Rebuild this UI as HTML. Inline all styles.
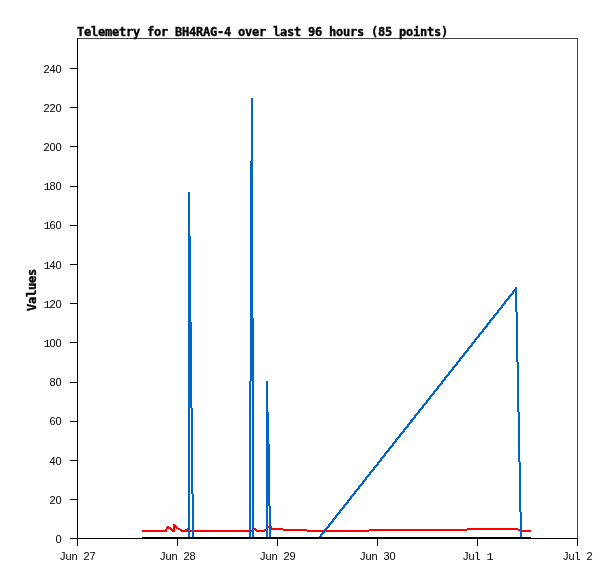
<!DOCTYPE html>
<html><head><meta charset="utf-8"><title>Telemetry for BH4RAG-4</title>
<style>
html,body{margin:0;padding:0;background:#fff}
#c{position:relative;width:615px;height:579px;overflow:hidden;background:#fff}
svg{display:block;position:absolute;left:0;top:0}
.l{position:absolute;font:11px/12px "Liberation Sans",sans-serif;white-space:pre;color:#000;letter-spacing:-0.117px;word-spacing:3.06px}
.m{font-family:"Liberation Mono",monospace;font-size:11px;letter-spacing:-0.6px;margin-left:-0.5px;margin-right:0.5px}
.n{font-family:"Liberation Mono",monospace;font-size:11.7px;letter-spacing:-1.02px}
</style></head>
<body>
<div id="c">
<svg width="615" height="579" viewBox="0 0 615 579" shape-rendering="crispEdges">
<rect width="615" height="579" fill="#fff"/>
<rect x="77" y="38" width="501" height="1" fill="#444"/>
<rect x="577" y="38" width="1" height="501" fill="#444"/>
<path fill="#ff0000" d="M142 530h23v2h-23zM165 529h1v3h-1zM166 527h1v5h-1zM167 526h2v3h-2zM169 527h1v2h-1zM170 527h1v3h-1zM171 528h1v3h-1zM172 529h1v3h-1zM173 524h2v8h-2zM175 525h1v3h-1zM176 526h1v3h-1zM177 527h1v2h-1zM178 528h2v2h-2zM180 529h1v2h-1zM181 529h1v3h-1zM182 530h3v2h-3zM185 529h2v3h-2zM187 528h1v4h-1zM188 530h64v2h-64zM252 528h2v4h-2zM254 528h1v2h-1zM255 528h1v3h-1zM256 529h1v3h-1zM257 530h7v2h-7zM264 529h1v3h-1zM265 529h1v2h-1zM266 526h2v5h-2zM268 526h3v2h-3zM271 526h1v4h-1zM272 528h11v2h-11zM283 529h24v2h-24zM307 530h62v2h-62zM369 529h98v2h-98zM467 528h51v2h-51zM518 529h2v2h-2zM520 530h11v2h-11z"/>
<path fill="#0066cc" d="M188 192h2v346h-2zM190 236h1v172h-1zM191 322h1v172h-1zM192 408h1v130h-1zM193 494h1v44h-1zM249 381h1v157h-1zM250 161h1v377h-1zM251 98h1v283h-1zM252 98h1v440h-1zM253 318h1v220h-1zM266 381h2v157h-2zM268 412h1v94h-1zM269 444h1v94h-1zM270 506h1v32h-1zM515 287h1v25h-1zM516 287h1v75h-1zM517 312h1v100h-1zM518 362h1v100h-1zM519 412h1v100h-1zM520 462h1v76h-1zM521 512h1v26h-1z"/>
<clipPath id="cp"><rect x="300" y="287" width="217" height="251"/></clipPath>
<line x1="319.1" y1="538" x2="517.35" y2="287" stroke="#0066cc" stroke-width="2.2" shape-rendering="crispEdges" clip-path="url(#cp)"/>
<path fill="#000" d="M142 537h389v2h-389z"/>
<path fill="#000" d="M70 460h7v1h-7zM70 303h7v1h-7zM70 499h7v1h-7zM70 225h7v1h-7zM70 68h7v1h-7zM70 421h7v1h-7zM70 107h7v1h-7zM70 538h7v1h-7zM70 382h7v1h-7zM70 146h7v1h-7zM70 264h7v1h-7zM70 186h7v1h-7zM70 342h7v1h-7zM77 38h1v508h-1zM78 538h99v1h-99zM177 538h1v8h-1zM178 538h99v1h-99zM277 538h1v8h-1zM278 538h99v1h-99zM377 538h1v8h-1zM378 538h99v1h-99zM477 538h1v8h-1zM478 538h99v1h-99zM577 538h1v8h-1z"/>
<g font-family="'DejaVu Sans Mono', 'Liberation Mono', monospace" font-weight="bold" font-size="12px" fill="#000" stroke="#000" stroke-width="0.35" letter-spacing="-0.224">
<text x="77" y="36">Telemetry for BH4RAG-4 over last 96 hours (85 points)</text>
<text transform="translate(35.5 311) rotate(-90)">Values</text>
</g>
</svg>
<div class="l" style="left:55.5px;top:533px">0</div>
<div class="l" style="left:49.5px;top:494px">20</div>
<div class="l" style="left:49.5px;top:455px">40</div>
<div class="l" style="left:49.5px;top:415px">60</div>
<div class="l" style="left:49.5px;top:376px">80</div>
<div class="l" style="left:43.5px;top:337px"><span class="n">1</span>00</div>
<div class="l" style="left:43.5px;top:298px"><span class="n">1</span>20</div>
<div class="l" style="left:43.5px;top:259px"><span class="n">1</span>40</div>
<div class="l" style="left:43.5px;top:219px"><span class="n">1</span>60</div>
<div class="l" style="left:43.5px;top:180px"><span class="n">1</span>80</div>
<div class="l" style="left:43.5px;top:141px">200</div>
<div class="l" style="left:43.5px;top:102px">220</div>
<div class="l" style="left:43.5px;top:63px">240</div>
<div class="l" style="left:60.0px;top:550px">Jun 27</div>
<div class="l" style="left:160.0px;top:550px">Jun 28</div>
<div class="l" style="left:260.0px;top:550px">Jun 29</div>
<div class="l" style="left:360.0px;top:550px">Jun 30</div>
<div class="l" style="left:463.0px;top:550px">Ju<span class="m">l</span> <span class="n">1</span></div>
<div class="l" style="left:563.0px;top:550px">Ju<span class="m">l</span> 2</div>
</div>
</body></html>
